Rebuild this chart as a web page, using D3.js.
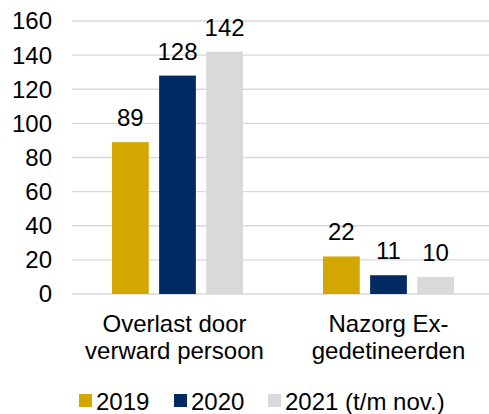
<!DOCTYPE html>
<html>
<head>
<meta charset="utf-8">
<script src="https://cdn.jsdelivr.net/npm/d3@7"></script>
<style>
  html, body { margin: 0; padding: 0; background: #fff; }
  svg { display: block; font-family: "Liberation Sans", Arial, sans-serif; }
</style>
</head>
<body>
<svg id="chart" width="489" height="414"></svg>
<script>
const categories = [["Overlast door", "verward persoon"], ["Nazorg Ex-", "gedetineerden"]];
const seriesNames = ["2019", "2020", "2021 (t/m nov.)"];
const values2019 = [89, 22];
const values2020 = [128, 11];
const values2021 = [142, 10];
const seriesColors = ["#D4A700", "#002A62", "#D9D9D9"];
const yTicks = [0, 20, 40, 60, 80, 100, 120, 140, 160];

const seriesValues = [values2019, values2020, values2021];
const svg = d3.select("#chart");
const fontSize = 24;
const bigFont = 24;

const y = d3.scaleLinear().domain([0, 160]).range([294, 21]);
const catIdx = categories.map((d, i) => i);
const x0 = d3.scaleBand().domain(catIdx).range([72, 494]).paddingInner(0).paddingOuter(0);
const x1 = d3.scaleBand().domain(d3.range(seriesNames.length))
  .range([40, x0.bandwidth() - 40]).paddingInner(0.22);

// gridlines
svg.append("g").selectAll("line").data(yTicks).join("line")
  .attr("x1", 72).attr("x2", 494)
  .attr("y1", d => y(d)).attr("y2", d => y(d))
  .attr("stroke", "#D9D9D9").attr("stroke-width", 1.3);

// y axis labels
svg.append("g").selectAll("text").data(yTicks).join("text")
  .attr("x", 52).attr("y", d => y(d)).attr("dy", "0.35em")
  .attr("text-anchor", "end").attr("font-size", fontSize).attr("fill", "#000")
  .text(d => d);

// bars
const groups = svg.append("g").selectAll("g").data(catIdx).join("g")
  .attr("transform", d => `translate(${x0(d)},0)`);
groups.selectAll("rect").data(ci => seriesValues.map((vals, si) => ({si, v: vals[ci]}))).join("rect")
  .attr("x", d => x1(d.si)).attr("width", x1.bandwidth())
  .attr("y", d => y(d.v)).attr("height", d => y(0) - y(d.v))
  .attr("fill", d => seriesColors[d.si]);
groups.selectAll("text").data(ci => seriesValues.map((vals, si) => ({si, v: vals[ci]}))).join("text")
  .attr("x", d => x1(d.si) + x1.bandwidth() / 2).attr("y", d => y(d.v) - 16)
  .attr("text-anchor", "middle").attr("font-size", fontSize).attr("fill", "#000")
  .text(d => d.v);

// category labels
const catG = svg.append("g").selectAll("text").data(catIdx).join("text")
  .attr("text-anchor", "middle").attr("font-size", bigFont).attr("fill", "#000");
catG.selectAll("tspan").data(ci => categories[ci].map(t => ({t, ci}))).join("tspan")
  .attr("x", d => x0(d.ci) + x0.bandwidth() / 2 - (d.ci === 0 ? 3 : 0))
  .attr("y", (d, i) => 332 + i * 27)
  .text(d => d.t);

// legend
const legendX = [79, 174, 268];
const lg = svg.append("g").selectAll("g").data(seriesNames).join("g")
  .attr("transform", (d, i) => `translate(${legendX[i]},394)`);
lg.append("rect").attr("width", 13).attr("height", 13).attr("fill", (d, i) => seriesColors[i]);
lg.append("text").attr("x", 17).attr("y", 15.5).attr("font-size", bigFont).attr("fill", "#000")
  .text(d => d);
</script>
</body>
</html>
